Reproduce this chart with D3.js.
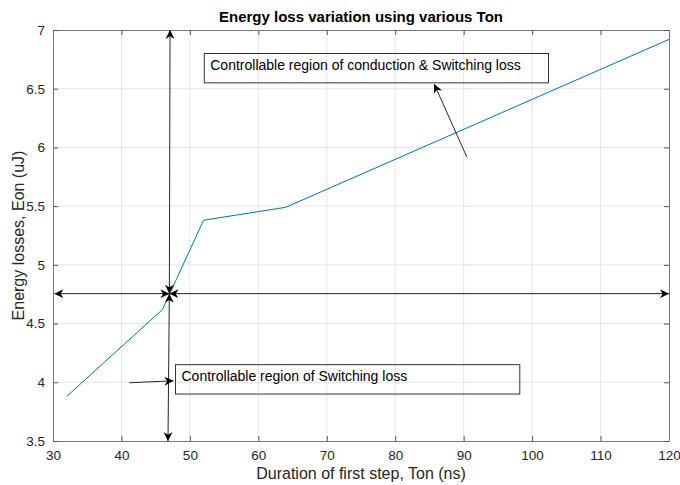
<!DOCTYPE html>
<html>
<head>
<meta charset="utf-8">
<script src="https://cdn.jsdelivr.net/npm/d3@7"></script>
<style>
  body { margin: 0; background: #fff; }
  svg { font-family: "Liberation Sans", Arial, sans-serif; }
</style>
</head>
<body>
<div id="chart"></div>
<script>
// data
const tonNs = [32, 46, 52, 64, 120];
const eonUj = [3.88, 4.62, 5.38, 5.49, 6.92];
const xTicks = [30, 40, 50, 60, 70, 80, 90, 100, 110, 120];
const yTicks = [3.5, 4, 4.5, 5, 5.5, 6, 6.5, 7];

// double arrows meeting at the operating point (data coords)
const markPoint = [47, 4.755];
const doubleArrowEnds = [[47.1, 7], [46.8, 3.5], [30.2, 4.755], [120, 4.755]];

// text boxes [x0, y0, x1, y1] in data coords, with their pointer arrows
const notes = [
  { text: 'Controllable region of conduction & Switching loss', box: [52.1, 6.80, 102.4, 6.55], from: [90.45, 5.92], to: [85.7, 6.54] },
  { text: 'Controllable region of Switching loss', box: [47.9, 4.15, 98.2, 3.90], from: [41.15, 3.996], to: [47.6, 4.013] }
];

const width = 680, height = 485;
const margin = { top: 30, right: 11, bottom: 44, left: 53 };

const svg = d3.select('#chart').append('svg')
  .attr('width', width)
  .attr('height', height);

const x = d3.scaleLinear().domain([30, 120]).range([margin.left, width - margin.right]);
const y = d3.scaleLinear().domain([3.5, 7]).range([height - margin.bottom, margin.top]);

const defs = svg.append('defs');
defs.append('marker')
  .attr('id', 'head')
  .attr('viewBox', '0 0 10 10')
  .attr('refX', 10).attr('refY', 5)
  .attr('markerWidth', 11).attr('markerHeight', 9)
  .attr('markerUnits', 'userSpaceOnUse')
  .attr('orient', 'auto-start-reverse')
  .append('path')
  .attr('d', 'M0,0 L10,5 L0,10 L3,5 Z')
  .attr('fill', '#000');

// grid
svg.append('g').selectAll('line').data(xTicks.slice(1, -1)).enter().append('line')
  .attr('x1', d => x(d)).attr('x2', d => x(d))
  .attr('y1', y(3.5)).attr('y2', y(7))
  .attr('stroke', '#e6e6e6').attr('stroke-width', 1);
svg.append('g').selectAll('line').data(yTicks.slice(1, -1)).enter().append('line')
  .attr('x1', x(30)).attr('x2', x(120))
  .attr('y1', d => y(d)).attr('y2', d => y(d))
  .attr('stroke', '#e6e6e6').attr('stroke-width', 1);

// axes (ticks inward, box on all sides)
const axisColor = '#262626';
const fmt = d => String(d);
const gx = svg.append('g').attr('transform', `translate(0,${y(3.5)})`)
  .call(d3.axisBottom(x).tickValues(xTicks).tickFormat(fmt).tickSize(-5).tickPadding(9).tickSizeOuter(0));
const gxTop = svg.append('g').attr('transform', `translate(0,${y(7)})`)
  .call(d3.axisTop(x).tickValues(xTicks).tickSize(-5).tickFormat('').tickSizeOuter(0));
const gy = svg.append('g').attr('transform', `translate(${x(30)},0)`)
  .call(d3.axisLeft(y).tickValues(yTicks).tickFormat(fmt).tickSize(-5).tickPadding(8).tickSizeOuter(0));
const gyRight = svg.append('g').attr('transform', `translate(${x(120)},0)`)
  .call(d3.axisRight(y).tickValues(yTicks).tickSize(-5).tickFormat('').tickSizeOuter(0));

[gx, gxTop, gy, gyRight].forEach(g => {
  g.selectAll('path.domain').attr('stroke', '#7a7a7a').attr('stroke-width', 1);
  g.selectAll('.tick line').attr('stroke', '#555');
  g.selectAll('text').attr('fill', axisColor).style('font-size', '13.5px')
    .style('font-family', '"Liberation Sans", Arial, sans-serif');
});

// data line
const line = d3.line().x(d => x(d[0])).y(d => y(d[1]));
svg.append('path')
  .datum(d3.zip(tonNs, eonUj))
  .attr('d', line)
  .attr('fill', 'none')
  .attr('stroke', '#0072BD')
  .attr('stroke-width', 1);

// double arrows from the operating point
doubleArrowEnds.forEach(end => {
  svg.append('line')
    .attr('x1', x(markPoint[0])).attr('y1', y(markPoint[1]))
    .attr('x2', x(end[0])).attr('y2', y(end[1]))
    .attr('stroke', '#262626').attr('stroke-width', 1)
    .attr('marker-start', 'url(#head)')
    .attr('marker-end', 'url(#head)');
});

// text boxes and pointers
notes.forEach(n => {
  svg.append('rect')
    .attr('x', x(n.box[0])).attr('y', y(n.box[1]))
    .attr('width', x(n.box[2]) - x(n.box[0]))
    .attr('height', y(n.box[3]) - y(n.box[1]))
    .attr('fill', 'none')
    .attr('stroke', '#333').attr('stroke-width', 1);
  svg.append('text')
    .attr('x', x(n.box[0]) + 6)
    .attr('y', (y(n.box[1]) + y(n.box[3])) / 2 + 2)
    .attr('fill', '#000')
    .style('font-size', '14px')
    .text(n.text);
  svg.append('line')
    .attr('x1', x(n.from[0])).attr('y1', y(n.from[1]))
    .attr('x2', x(n.to[0])).attr('y2', y(n.to[1]))
    .attr('stroke', '#262626').attr('stroke-width', 1)
    .attr('marker-end', 'url(#head)');
});

// title and axis labels
svg.append('text')
  .attr('x', (x(30) + x(120)) / 2).attr('y', 22)
  .attr('text-anchor', 'middle')
  .style('font-size', '15px').style('font-weight', 'bold')
  .attr('fill', '#000')
  .text('Energy loss variation using various Ton');

svg.append('text')
  .attr('x', (x(30) + x(120)) / 2).attr('y', 479)
  .attr('text-anchor', 'middle')
  .style('font-size', '16px')
  .attr('fill', axisColor)
  .text('Duration of first step, Ton (ns)');

svg.append('text')
  .attr('transform', `translate(24,${(y(3.5) + y(7)) / 2}) rotate(-90)`)
  .attr('text-anchor', 'middle')
  .style('font-size', '16px')
  .attr('fill', axisColor)
  .text('Energy losses, Eon (uJ)');
</script>
</body>
</html>
